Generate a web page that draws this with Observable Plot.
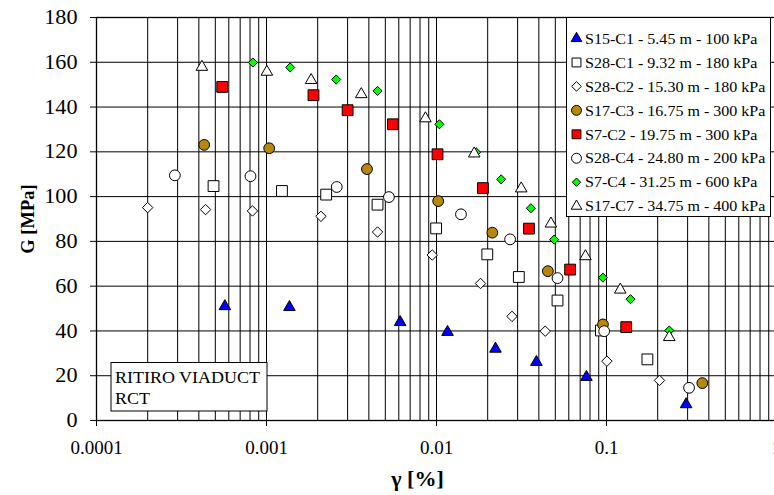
<!DOCTYPE html>
<html><head><meta charset="utf-8">
<script src="https://cdn.jsdelivr.net/npm/d3@7"></script>
<script src="https://cdn.jsdelivr.net/npm/@observablehq/plot@0.6"></script>
<style>
html,body{margin:0;padding:0;overflow:hidden;background:#fff;}
#chart svg{max-width:none !important;width:800px !important;height:495px !important;display:block;}
</style></head><body><div id="chart"></div>
<script>
// ---- data ----
const seriesNames = [
  "S15-C1 - 5.45 m - 100 kPa",
  "S28-C1 - 9.32 m - 180 kPa",
  "S28-C2 - 15.30 m - 180 kPa",
  "S17-C3 - 16.75 m - 300 kPa",
  "S7-C2 - 19.75 m - 300 kPa",
  "S28-C4 - 24.80 m - 200 kPa",
  "S7-C4 - 31.25 m - 600 kPa",
  "S17-C7 - 34.75 m - 400 kPa"
];
const s15c1_gamma = [0.000569, 0.001364, 0.00611, 0.01161, 0.02223, 0.0387, 0.0762, 0.294];
const s15c1_G     = [51.0, 50.6, 43.9, 39.5, 32.0, 26.1, 19.4, 7.2];
const s28c1_gamma = [0.000488, 0.001233, 0.002244, 0.0045, 0.00995, 0.0199, 0.0305, 0.0515, 0.0927, 0.174];
const s28c1_G     = [104.7, 102.5, 100.9, 96.4, 85.8, 74.2, 64.1, 53.6, 40.2, 27.3];
const s28c2_gamma = [0.0002, 0.000438, 0.000827, 0.00209, 0.0045, 0.00944, 0.01815, 0.0278, 0.0436, 0.1005, 0.205];
const s28c2_G     = [95.1, 94.2, 93.6, 91.2, 84.2, 73.9, 61.2, 46.5, 39.9, 26.5, 17.9];
const s17c3_gamma = [0.00043, 0.001037, 0.0039, 0.01023, 0.0213, 0.0452, 0.0953, 0.366];
const s17c3_G     = [123.1, 121.6, 112.3, 98.0, 83.9, 66.7, 42.9, 16.7];
const s7c2_gamma  = [0.000549, 0.00189, 0.003, 0.00554, 0.01014, 0.01875, 0.035, 0.0611, 0.1306];
const s7c2_G      = [149.0, 145.3, 138.6, 132.3, 118.9, 103.8, 85.7, 67.4, 41.7];
const s28c4_gamma = [0.000289, 0.000805, 0.00259, 0.00525, 0.01393, 0.0271, 0.0515, 0.0969, 0.306];
const s28c4_G     = [109.5, 109.1, 104.3, 99.8, 92.1, 80.9, 63.6, 39.9, 14.6];
const s7c4_gamma  = [0.000832, 0.001378, 0.00257, 0.0045, 0.0104, 0.0171, 0.024, 0.0359, 0.0492, 0.0953, 0.1384, 0.234];
const s7c4_G      = [159.9, 157.7, 152.3, 147.2, 132.3, 119.8, 107.7, 94.8, 80.8, 63.8, 54.2, 40.2];
const s17c7_gamma = [0.000417, 0.001005, 0.00183, 0.00361, 0.00861, 0.01667, 0.0315, 0.0471, 0.0752, 0.1205, 0.234];
const s17c7_G     = [157.9, 155.7, 152.0, 145.7, 134.9, 119.2, 103.6, 87.9, 73.3, 58.4, 37.2];

const xTicks = [0.0001, 0.001, 0.01, 0.1, 1];
const yTicks = [0, 20, 40, 60, 80, 100, 120, 140, 160, 180];
const annotationLines = ["RITIRO VIADUCT", "RCT"];

// ---- styles ----
const series = [
  {name: seriesNames[0], gx: s15c1_gamma, gy: s15c1_G, symbol: "triangle", fill: "#0000ff", r: 4.3},
  {name: seriesNames[1], gx: s28c1_gamma, gy: s28c1_G, symbol: "square",   fill: "#ffffff", r: 6.1},
  {name: seriesNames[2], gx: s28c2_gamma, gy: s28c2_G, symbol: "diamond2", fill: "#ffffff", r: 4.7},
  {name: seriesNames[3], gx: s17c3_gamma, gy: s17c3_G, symbol: "circle",   fill: "#b8860b", r: 5.4},
  {name: seriesNames[4], gx: s7c2_gamma,  gy: s7c2_G,  symbol: "square",   fill: "#ff0000", r: 6.1},
  {name: seriesNames[5], gx: s28c4_gamma, gy: s28c4_G, symbol: "circle",   fill: "#ffffff", r: 5.4},
  {name: seriesNames[6], gx: s7c4_gamma,  gy: s7c4_G,  symbol: "diamond2", fill: "#00ff00", r: 4.1},
  {name: seriesNames[7], gx: s17c7_gamma, gy: s17c7_G, symbol: "triangle", fill: "#ffffff", r: 4.3}
];

const gridX = [0.0001, 0.001, 0.01, 0.1].flatMap(d => [1,2,3,4,5,6,7,8,9].map(k => +(k*d).toPrecision(3))).concat([1]);

const M = {left: 96, right: 24, top: 17, bottom: 75};
const W = 800, H = 495;
const FONT = "'Liberation Serif', 'Times New Roman', serif";

const dotMarks = series.map(s => Plot.dot(s.gx.map((g, i) => ({gamma: g, G: s.gy[i]})), {
  x: "gamma", y: "G", symbol: s.symbol, fill: s.fill, stroke: "#000", strokeWidth: 1, r: s.r
}));

const chart = Plot.plot({
  width: W, height: H,
  marginLeft: M.left, marginRight: M.right, marginTop: M.top, marginBottom: M.bottom,
  style: {fontFamily: FONT, fontSize: "19px", color: "#000", background: "#fff", overflow: "visible", maxWidth: "none"},
  x: {type: "log", domain: [0.0001, 1], ticks: xTicks, tickFormat: d => String(d), tickSize: 6, tickPadding: 14, label: null},
  y: {domain: [0, 180], ticks: yTicks, tickSize: 6, tickPadding: 13, label: null},
  marks: [
    Plot.ruleX(gridX, {stroke: "#000", strokeWidth: 1}),
    Plot.ruleY(yTicks, {stroke: "#000", strokeWidth: 1}),
    Plot.frame({stroke: "#000", strokeWidth: 1.3}),
    ...dotMarks,
    Plot.text(["γ [%]"], {frameAnchor: "bottom", lineAnchor: "middle", textAnchor: "middle", dy: 59, dx: -19, fontWeight: "bold", fontSize: 20}),
    Plot.text(["G [MPa]"], {frameAnchor: "left", lineAnchor: "middle", textAnchor: "middle", dx: -68, rotate: -90, fontWeight: "bold", fontSize: 18.5})
  ]
});
document.getElementById("chart").appendChild(chart);

// stretch text horizontally (about its anchor x) like the reference
function stretch(t, s) {
  const tr = t.getAttribute("transform") || "";
  let x = parseFloat(t.getAttribute("x"));
  if (!isFinite(x) || /em/.test(t.getAttribute("x") || "")) x = 0;
  t.setAttribute("transform", `${tr} translate(${x},0) scale(${s},1) translate(${-x},0)`);
}
// y tick labels: slightly larger & wider
chart.querySelectorAll('[aria-label="y-axis tick label"] text').forEach(t => {
  t.style.fontSize = "20.5px";
  stretch(t, 1.08);
});
chart.querySelectorAll('text').forEach(t => {
  if (t.textContent === "γ [%]") stretch(t, 1.1);
});

// legend + annotation box, drawn inside the frame
const svg = d3.select(chart);
const fx = M.left, fy = M.top, fh = H - M.top - M.bottom;

const lg = svg.append("g").attr("class", "legend").attr("text-anchor", "start")
  .style("font-family", FONT).style("font-size", "15px");
const lx = fx + 470.5, ly = fy + 0.5, lw = 204, lh = 199;
lg.append("rect").attr("x", lx).attr("y", ly).attr("width", lw).attr("height", lh)
  .attr("fill", "#fff").attr("stroke", "#000").attr("stroke-width", 1);
const symMap = {triangle: d3.symbolTriangle, square: d3.symbolSquare, diamond2: d3.symbolDiamond2, circle: d3.symbolCircle};
series.forEach((s, i) => {
  const cy = ly + 21 + i * 23.95;
  const sc = s.symbol === "square" ? 0.82 : 0.92;
  lg.append("path").attr("transform", `translate(${lx + 10},${cy})`)
    .attr("d", d3.symbol(symMap[s.symbol], Math.PI * (s.r * sc) ** 2)())
    .attr("fill", s.fill).attr("stroke", "#000").attr("stroke-width", 1);
  const t = lg.append("text").attr("x", lx + 18.5).attr("y", cy).attr("dy", "0.35em").text(s.name);
  stretch(t.node(), 1.07);
});

const ag = svg.append("g").attr("class", "annot").attr("text-anchor", "start")
  .style("font-family", FONT).style("font-size", "16.5px");
const ax = fx + 15, ay = fy + fh - 57.5;
ag.append("rect").attr("x", ax).attr("y", ay).attr("width", 156).attr("height", 48.5)
  .attr("fill", "#fff").attr("stroke", "#000").attr("stroke-width", 1);
annotationLines.forEach((line, i) => {
  const t = ag.append("text").attr("x", ax + 4).attr("y", ay + 14.5 + i * 21).attr("dy", "0.35em").text(line);
  stretch(t.node(), 1.09);
});
</script></body></html>
